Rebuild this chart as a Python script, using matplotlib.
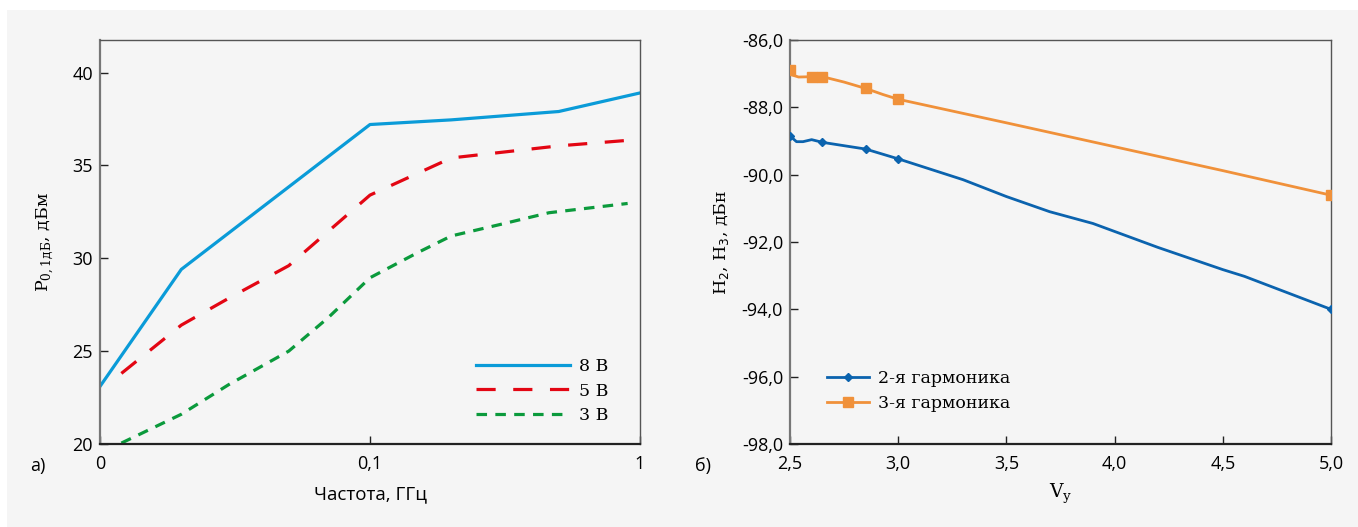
import matplotlib
matplotlib.use("Agg")
import matplotlib.pyplot as plt
from matplotlib.patches import Rectangle
from matplotlib.ticker import FixedLocator, FuncFormatter, NullLocator

# Data: left panel (P0,1dB vs frequency)
freq_8 = [0.01, 0.02, 0.1, 0.2, 0.5, 1.0]
p_8 = [23.1, 29.4, 37.2, 37.45, 37.9, 38.9]
freq_5 = [0.012, 0.02, 0.03, 0.05, 0.1, 0.2, 0.5, 1.0]
p_5 = [23.8, 26.4, 27.85, 29.6, 33.4, 35.4, 36.05, 36.4]
freq_3 = [0.012, 0.02, 0.03, 0.05, 0.07, 0.1, 0.15, 0.2, 0.31, 0.46, 0.9]
p_3 = [20.05, 21.6, 23.2, 25.0, 26.8, 28.95, 30.3, 31.2, 31.85, 32.45, 32.95]
freq_ticks = [0.01, 0.1, 1.0]
freq_labels = ["0", "0,1", "1"]

# Data: right panel (harmonics vs Vy)
v_h2 = [2.5, 2.53, 2.56, 2.6, 2.65, 2.85, 3.0, 3.15, 3.3, 3.5, 3.7, 3.9, 4.2, 4.5, 4.6, 5.0]
h2 = [-88.85, -89.02, -89.02, -88.96, -89.04, -89.24, -89.53, -89.84, -90.15,
      -90.65, -91.1, -91.45, -92.16, -92.82, -93.02, -94.0]
h2_marks = [0, 4, 5, 6, 15]
v_h3 = [2.5, 2.51, 2.54, 2.6, 2.65, 2.75, 2.85, 2.93, 3.0, 3.5, 4.0, 4.5, 5.0]
h3 = [-86.89, -87.04, -87.1, -87.09, -87.09, -87.25, -87.44, -87.62, -87.76,
      -88.46, -89.17, -89.88, -90.61]
h3_marks = [0, 3, 4, 6, 8, 12]

BG = "#f5f5f5"
tick_font = "Open Sans"
serif = "DejaVu Serif"

W, H = 1358, 527
fig = plt.figure(figsize=(W / 100, H / 100), dpi=100, facecolor="white")
fig.add_artist(Rectangle((7 / W, 0), 1 - 7 / W, (H - 10) / H, transform=fig.transFigure,
                         facecolor=BG, edgecolor="none", zorder=-10))


def px_axes(x0, x1, y0, y1):
    return fig.add_axes([x0 / W, (H - y1) / H, (x1 - x0) / W, (y1 - y0) / H])


def style(ax):
    ax.set_facecolor(BG)
    for s in ["top", "right"]:
        ax.spines[s].set_color("#555555")
        ax.spines[s].set_linewidth(1.0)
    ax.spines["left"].set_color("#777777")
    ax.spines["left"].set_linewidth(1.6)
    ax.spines["bottom"].set_color("#222222")
    ax.spines["bottom"].set_linewidth(1.6)
    ax.tick_params(direction="in", length=6, width=1, color="#222222", labelsize=13)
    for lab in ax.get_xticklabels() + ax.get_yticklabels():
        lab.set_fontfamily(tick_font)


# Left panel
ax1 = px_axes(100, 640, 40, 444)
ax1.plot(freq_8, p_8, color="#0a9bd8", lw=2.3, label="8 В")
ax1.plot(freq_5, p_5, color="#e30613", lw=2.3, dashes=(6, 5.5), label="5 В")
ax1.plot(freq_3, p_3, color="#0b9a3c", lw=2.3, dashes=(3.3, 2.6), label="3 В")
ax1.set_xscale("log")
ax1.set_xlim(0.01, 1.0)
ax1.set_ylim(20, 41.75)
ax1.xaxis.set_major_locator(FixedLocator(freq_ticks))
ax1.xaxis.set_minor_locator(NullLocator())
ax1.set_xticklabels(freq_labels)
ax1.set_yticks([20, 25, 30, 35, 40])
style(ax1)
ax1.tick_params(axis="x", pad=8)
ax1.tick_params(axis="y", pad=5)
ax1.set_xlabel("Частота, ГГц", fontsize=13.5, family=tick_font, labelpad=9)
ax1.set_ylabel(r"P$_{\mathregular{0,1дБ}}$, дБм", fontsize=12.5, family=serif, labelpad=12)
ax1.legend(loc="lower right", bbox_to_anchor=(0.97, 0.01), frameon=False,
           handlelength=5.4, labelspacing=0.45, handletextpad=0.5,
           prop={"family": serif, "size": 12.5})

# Right panel
ax2 = px_axes(790, 1331, 40, 444)
ax2.plot(v_h3, h3, color="#f0913a", lw=2.0, marker="s", markersize=6.5,
         markevery=h3_marks, label="3-я гармоника", zorder=3)
ax2.plot(v_h2, h2, color="#0b63ae", lw=2.0, marker="D", markersize=4,
         markevery=h2_marks, label="2-я гармоника", zorder=4)
ax2.set_xlim(2.5, 5.0)
ax2.set_ylim(-98, -86)
ax2.set_xticks([2.5, 3.0, 3.5, 4.0, 4.5, 5.0])
ax2.set_yticks([-98, -96, -94, -92, -90, -88, -86])
comma = FuncFormatter(lambda v, p: f"{v:.1f}".replace(".", ","))
ax2.xaxis.set_major_formatter(comma)
ax2.yaxis.set_major_formatter(comma)
style(ax2)
ax2.tick_params(axis="x", pad=8)
ax2.tick_params(axis="y", pad=5)
ax2.set_xlabel(r"V$_{\mathregular{у}}$", fontsize=13.5, family=serif, labelpad=6)
ax2.set_ylabel(r"H$_2$, H$_3$, дБн", fontsize=12.5, family=serif, labelpad=8)
h, l = ax2.get_legend_handles_labels()
ax2.legend(h[::-1], l[::-1], loc="lower left", bbox_to_anchor=(0.04, 0.04), frameon=False,
           handlelength=2.4, labelspacing=0.45, handletextpad=0.5,
           prop={"family": serif, "size": 12.5})

fig.text(30 / W, 1 - 466 / H, "а)", fontsize=13, family=tick_font, va="center")
fig.text(695 / W, 1 - 466 / H, "б)", fontsize=13, family=tick_font, va="center")

fig.savefig("out.png", dpi=100, facecolor=fig.get_facecolor())
